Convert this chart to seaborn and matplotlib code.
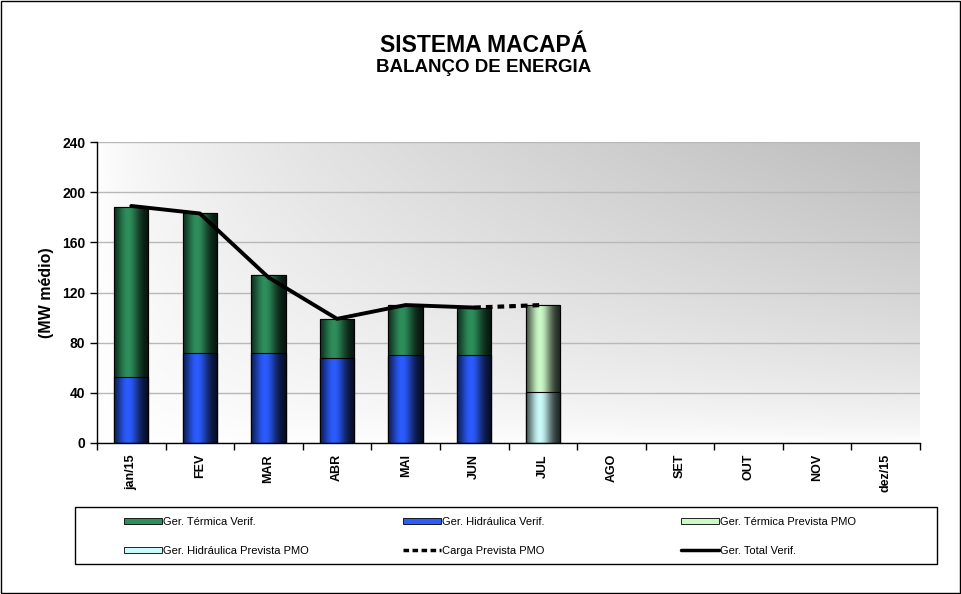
"""
Sistema Macapá - balanço de energia (MW médio), barras empilhadas com linhas de carga.
"""

import numpy as np
import matplotlib
matplotlib.use("Agg")
import matplotlib.pyplot as plt
from matplotlib import font_manager
from matplotlib.patches import Patch, Rectangle
from matplotlib.lines import Line2D
import seaborn as sns

# dados
meses = ["jan/15", "FEV", "MAR", "ABR", "MAI", "JUN", "JUL", "AGO", "SET", "OUT", "NOV", "dez/15"]
hidr_verif = [53, 72, 72, 68, 70, 70]
term_verif = [135, 111, 62, 31, 40, 38]
total_verif = [189, 183, 132, 99, 110, 108]
meses_prev = ["JUL"]
hidr_prev = [41]
term_prev = [69]
carga_meses = ["JUN", "JUL"]
carga_prev = [108, 110]

COR_TERM = (0.18, 0.56, 0.36)
COR_HIDR = (0.17, 0.36, 1.0)
COR_TERM_PREV = (0.80, 0.98, 0.78)
COR_HIDR_PREV = (0.80, 0.98, 0.98)

sns.set_theme(style="white")
plt.rcParams["font.family"] = ["Liberation Sans", "DejaVu Sans"]
for k in ["text.color", "axes.labelcolor", "xtick.color", "ytick.color"]:
    plt.rcParams[k] = "black"

# fonte estreita para a legenda, se existir
nomes = {f.name for f in font_manager.fontManager.ttflist}
fonte_leg = "Liberation Sans Narrow" if "Liberation Sans Narrow" in nomes else "Liberation Sans"

fig = plt.figure(figsize=(9.61, 5.94), dpi=100)
ax = fig.add_axes([97 / 961, 1 - 443 / 594, 823 / 961, 301 / 594])


def bar_layer(x, y, cor):
    n0 = len(ax.patches)
    sns.barplot(x=x, y=y, order=meses, color=cor, width=0.5, errorbar=None,
                edgecolor="black", linewidth=0.8, saturation=1, ax=ax)
    return [(p, cor) for p in ax.patches[n0:]]


barras = []
tot_v = [h + t for h, t in zip(hidr_verif, term_verif)]
barras += bar_layer(meses[:6], tot_v, COR_TERM)
barras += bar_layer(meses[:6], hidr_verif, COR_HIDR)
barras += bar_layer(meses_prev, [h + t for h, t in zip(hidr_prev, term_prev)], COR_TERM_PREV)
barras += bar_layer(meses_prev, hidr_prev, COR_HIDR_PREV)

# sombreamento cilíndrico das barras
t = np.linspace(0, 1, 80)
perfil = 0.12 + 0.88 * np.exp(-((t - 0.4) / 0.33) ** 2)
for p, cor in barras:
    x0, y0 = p.get_x(), p.get_y()
    w, h = p.get_width(), p.get_height()
    if np.isnan(h) or h == 0:
        continue
    img = np.array(cor)[None, None, :] * perfil[None, :, None]
    im = ax.imshow(img, extent=(x0, x0 + w, y0, y0 + h), aspect="auto",
                   zorder=p.get_zorder() + 0.01, interpolation="bilinear")
    im.set_clip_path(p)
    ax.add_patch(Rectangle((x0, y0), w, h, fill=False, edgecolor="black",
                           linewidth=0.8, zorder=p.get_zorder() + 0.02))

# linhas
pos = {m: i for i, m in enumerate(meses)}
sns.lineplot(x=[pos[m] for m in carga_meses], y=carga_prev, color="black",
             linewidth=3, linestyle=(0, (1.6, 1.2)), ax=ax, zorder=5)
sns.lineplot(x=list(range(len(total_verif))), y=total_verif, color="black",
             linewidth=2.8, ax=ax, zorder=6)

# fundo em degradê
gx, gy = np.meshgrid(np.linspace(0, 1, 200), np.linspace(0, 1, 200))
brilho = 1 - 0.26 * (gx * gy) ** 0.65
ax.imshow(np.dstack([brilho] * 3), extent=(0, 1, 0, 1), transform=ax.transAxes,
          origin="lower", aspect="auto", zorder=0)

ax.set_xlim(-0.5, 11.5)
ax.set_ylim(0, 240)
ax.set_yticks(range(0, 241, 40))
ax.yaxis.grid(True, color="#b8b8b8", linewidth=1)
ax.set_axisbelow(True)
for sp in ["top", "right"]:
    ax.spines[sp].set_visible(False)
for sp in ["left", "bottom"]:
    ax.spines[sp].set_color("black")
    ax.spines[sp].set_linewidth(1)

ax.set_xticks(range(12))
ax.set_xticklabels(meses, rotation=90, fontsize=9, fontweight="bold")
ax.set_xticks(np.arange(-0.5, 12, 1), minor=True)
ax.tick_params(axis="x", which="major", length=0, pad=8)
ax.tick_params(axis="x", which="minor", length=5, width=1, color="black", direction="out", bottom=True)
ax.tick_params(axis="y", length=5, width=1, color="black", direction="out", left=True,
               labelsize=10)
for lb in ax.get_yticklabels():
    lb.set_fontweight("bold")
ax.set_xlabel("")
ax.set_ylabel("(MW médio)", fontsize=11.5, fontweight="bold", labelpad=6)

fig.text(0.503, 1 - 45 / 594, "SISTEMA MACAPÁ", ha="center", va="center",
         fontsize=16.5, fontweight="bold")
fig.text(0.503, 1 - 68 / 594, "BALANÇO DE ENERGIA", ha="center", va="center",
         fontsize=13.5, fontweight="bold")


# legenda: três colunas, cada uma um fig.legend sem moldura
def h_barra(cor):
    return Patch(facecolor=cor, edgecolor="black", linewidth=0.6)


colunas = [
    ([h_barra(COR_TERM), h_barra(COR_HIDR_PREV)],
     ["Ger. Térmica Verif.", "Ger. Hidráulica Prevista PMO"]),
    ([h_barra(COR_HIDR), Line2D([], [], color="black", lw=2.5, linestyle=(0, (1.6, 1.0)))],
     ["Ger. Hidráulica Verif.", "Carga Prevista PMO"]),
    ([h_barra(COR_TERM_PREV), Line2D([], [], color="black", lw=2.5)],
     ["Ger. Térmica Prevista PMO", "Ger. Total Verif."]),
]
x_col = [124, 403, 681]
for (hs, ls), xc in zip(colunas, x_col):
    fig.legend(hs, ls, loc="upper left", bbox_to_anchor=(xc / 961, 1 - 517 / 594),
               borderaxespad=0, borderpad=0, frameon=False, handlelength=3.4,
               handleheight=0.55, handletextpad=0.1, labelspacing=1.7,
               prop={"family": [fonte_leg, "DejaVu Sans"], "size": 8})

fig.patches.append(Rectangle((75 / 961, 1 - 564 / 594), 862 / 961, 57 / 594,
                             transform=fig.transFigure, fill=False, edgecolor="black",
                             linewidth=1))
fig.patches.append(Rectangle((0.001, 0.001), 0.998, 0.997, transform=fig.transFigure,
                             fill=False, edgecolor="black", linewidth=1))

fig.savefig("out.png", dpi=100)
